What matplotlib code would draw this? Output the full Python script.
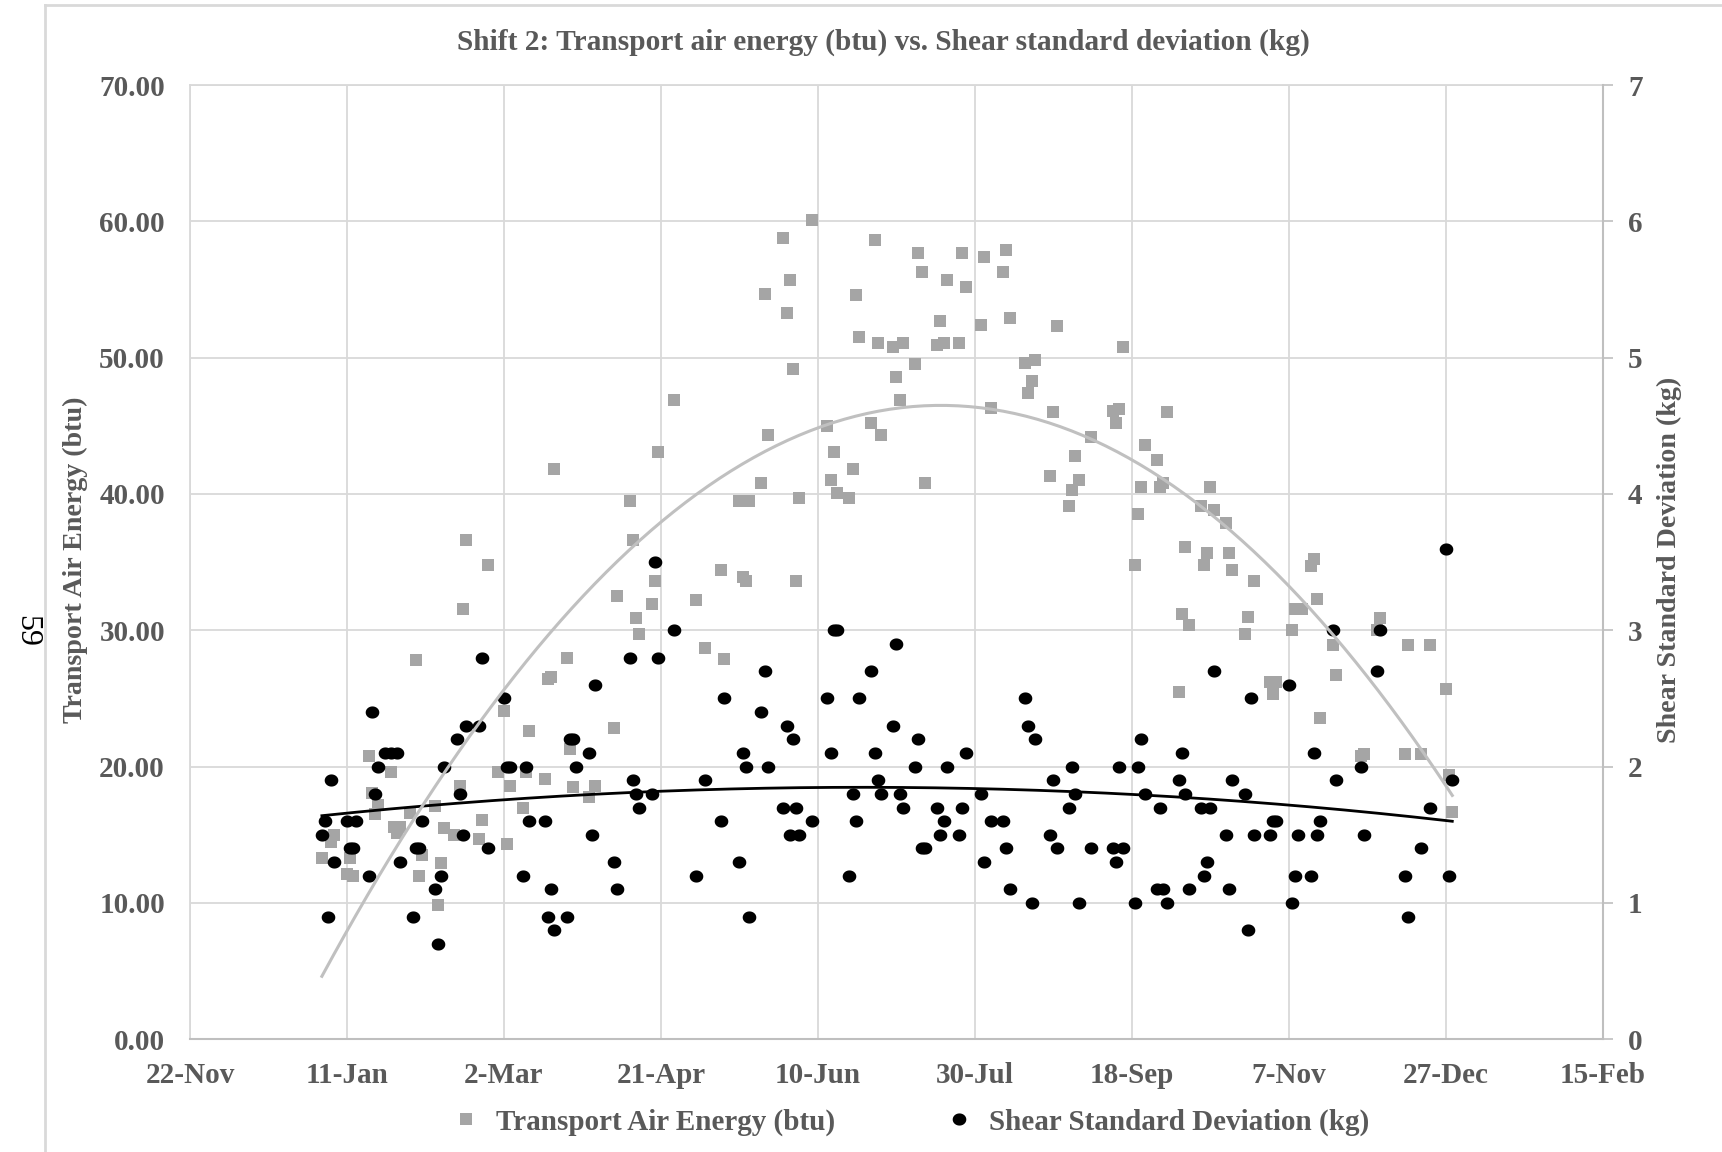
import numpy as np
import pandas as pd
import matplotlib
matplotlib.use("Agg")
import matplotlib.pyplot as plt
import matplotlib.dates as mdates
from matplotlib.lines import Line2D
from matplotlib.path import Path

# day of year (0 = 1 Jan 2017) and daily values for shift 2
energy_days = [2, 5, 6, 10, 11, 12, 17, 18, 19, 20, 24, 25, 26, 27, 30, 32, 33, 34, 38, 39,
               40, 41, 44, 46, 47, 48, 52, 53, 55, 58, 60, 61, 62, 66, 67, 68, 73, 74, 75, 76,
               80, 81, 82, 87, 89, 95, 96, 100, 101, 102, 103, 107, 108, 109, 114, 121, 124, 129, 130, 135,
               136, 137, 138, 142, 143, 144, 149, 150, 151, 152, 153, 154, 158, 163, 164, 165, 166, 170, 171, 172,
               173, 177, 178, 179, 180, 184, 185, 186, 187, 191, 192, 193, 194, 198, 199, 200, 201, 205, 206, 207,
               212, 213, 215, 219, 220, 221, 226, 227, 228, 229, 234, 235, 236, 240, 241, 242, 243, 247, 254, 255,
               256, 257, 261, 262, 263, 264, 268, 269, 270, 271, 275, 276, 277, 278, 282, 283, 284, 285, 286, 290,
               291, 292, 296, 297, 299, 304, 305, 306, 311, 312, 314, 317, 318, 319, 320, 324, 325, 333, 334, 338,
               339, 347, 348, 352, 355, 360, 361, 362]
energy_btu = [13.3, 14.5, 15.0, 12.1, 13.3, 12.0, 20.8, 18.1, 16.5, 17.2, 19.6, 15.6, 15.1, 15.6, 16.6, 27.8, 12.0, 13.5, 17.1, 9.85,
              12.9, 15.5, 15.0, 18.6, 31.6, 36.6, 14.7, 16.1, 34.8, 19.6, 24.1, 14.3, 18.6, 17.0, 19.6, 22.6, 19.1, 26.4, 26.6, 41.8,
              28.0, 21.3, 18.5, 17.8, 18.6, 22.8, 32.5, 39.5, 36.6, 30.9, 29.7, 31.9, 33.6, 43.1, 46.9, 32.2, 28.7, 34.4, 27.9, 39.5,
              33.9, 33.6, 39.5, 40.8, 54.7, 44.3, 58.8, 53.3, 55.7, 49.2, 33.6, 39.7, 60.1, 45.0, 41.0, 43.1, 40.1, 39.7, 41.8, 54.6,
              51.5, 45.2, 58.6, 51.1, 44.3, 50.8, 48.6, 46.9, 51.1, 49.5, 57.7, 56.3, 40.8, 50.9, 52.7, 51.1, 55.7, 51.1, 57.7, 55.2,
              52.4, 57.4, 46.3, 56.3, 57.9, 52.9, 49.6, 47.4, 48.3, 49.8, 41.3, 46.0, 52.3, 39.1, 40.3, 42.8, 41.0, 44.2, 46.1, 45.2,
              46.2, 50.8, 34.8, 38.5, 40.5, 43.6, 42.5, 40.5, 40.8, 46.0, 25.5, 31.2, 36.1, 30.4, 39.1, 34.8, 35.7, 40.5, 38.8, 37.9,
              35.7, 34.4, 29.7, 31.0, 33.6, 26.2, 25.3, 26.2, 30.0, 31.6, 31.6, 34.7, 35.2, 32.3, 23.6, 28.9, 26.7, 20.8, 20.9, 30.0,
              30.9, 20.9, 28.9, 20.9, 28.9, 25.7, 19.4, 16.7]

shear_days = [2, 3, 4, 5, 6, 10, 11, 12, 13, 17, 18, 19, 20, 22, 24, 26, 27, 31, 32, 33,
              34, 38, 39, 40, 41, 45, 46, 47, 48, 52, 53, 55, 60, 61, 62, 66, 67, 68, 73, 74,
              75, 76, 80, 81, 82, 83, 87, 88, 89, 95, 96, 100, 101, 102, 103, 107, 108, 109, 114, 121,
              124, 129, 130, 135, 136, 137, 138, 142, 143, 144, 149, 150, 151, 152, 153, 154, 158, 163, 164, 165,
              166, 170, 171, 172, 173, 177, 178, 179, 180, 184, 185, 186, 187, 191, 192, 193, 194, 198, 199, 200,
              201, 205, 206, 207, 212, 213, 215, 219, 220, 221, 226, 227, 228, 229, 234, 235, 236, 240, 241, 242,
              243, 247, 254, 255, 256, 257, 261, 262, 263, 264, 268, 269, 270, 271, 275, 276, 277, 278, 282, 283,
              284, 285, 286, 290, 291, 292, 296, 297, 298, 299, 304, 305, 306, 310, 311, 312, 313, 317, 318, 319,
              320, 324, 325, 333, 334, 338, 339, 347, 348, 352, 355, 360, 361, 362]
shear_kg = [1.5, 1.6, 0.9, 1.9, 1.3, 1.6, 1.4, 1.4, 1.6, 1.2, 2.4, 1.8, 2.0, 2.1, 2.1, 2.1, 1.3, 0.9, 1.4, 1.4,
            1.6, 1.1, 0.7, 1.2, 2.0, 2.2, 1.8, 1.5, 2.3, 2.3, 2.8, 1.4, 2.5, 2.0, 2.0, 1.2, 2.0, 1.6, 1.6, 0.9,
            1.1, 0.8, 0.9, 2.2, 2.2, 2.0, 2.1, 1.5, 2.6, 1.3, 1.1, 2.8, 1.9, 1.8, 1.7, 1.8, 3.5, 2.8, 3.0, 1.2,
            1.9, 1.6, 2.5, 1.3, 2.1, 2.0, 0.9, 2.4, 2.7, 2.0, 1.7, 2.3, 1.5, 2.2, 1.7, 1.5, 1.6, 2.5, 2.1, 3.0,
            3.0, 1.2, 1.8, 1.6, 2.5, 2.7, 2.1, 1.9, 1.8, 2.3, 2.9, 1.8, 1.7, 2.0, 2.2, 1.4, 1.4, 1.7, 1.5, 1.6,
            2.0, 1.5, 1.7, 2.1, 1.8, 1.3, 1.6, 1.6, 1.4, 1.1, 2.5, 2.3, 1.0, 2.2, 1.5, 1.9, 1.4, 1.7, 2.0, 1.8,
            1.0, 1.4, 1.4, 1.3, 2.0, 1.4, 1.0, 2.0, 2.2, 1.8, 1.1, 1.7, 1.1, 1.0, 1.9, 2.1, 1.8, 1.1, 1.7, 1.2,
            1.3, 1.7, 2.7, 1.5, 1.1, 1.9, 1.8, 0.8, 2.5, 1.5, 1.5, 1.6, 1.6, 2.6, 1.0, 1.2, 1.5, 1.2, 2.1, 1.5,
            1.6, 3.0, 1.9, 2.0, 1.5, 2.7, 3.0, 1.2, 0.9, 1.4, 1.7, 3.6, 1.2, 1.9]

start = pd.Timestamp("2017-01-01")
x_start, x_end = pd.Timestamp("2016-11-22"), pd.Timestamp("2018-02-15")
tick_dates = pd.date_range(x_start, x_end, freq="50D")

TXT = "#595959"
GRID = "#d9d9d9"
AXIS = "#bfbfbf"

plt.rcParams["font.family"] = ["Liberation Serif", "DejaVu Serif"]
plt.rcParams["font.weight"] = "bold"


def ellipse_marker(sx):
    t = np.linspace(0, 2 * np.pi, 64)
    return Path(np.column_stack([sx * np.cos(t), np.sin(t)]), closed=True)


def rect_marker(w, h):
    return Path([(-w, -h), (w, -h), (w, h), (-w, h), (-w, -h)], closed=True)


dot = ellipse_marker(1.12)
square = rect_marker(1.08, 1.0)

e_dates = start + pd.to_timedelta(energy_days, unit="D")
s_dates = start + pd.to_timedelta(shear_days, unit="D")

# second order polynomial trendlines
e_fit = np.polyfit(energy_days, energy_btu, 2)
s_fit = np.polyfit(shear_days, shear_kg, 2)
fit_days = np.linspace(min(energy_days), max(energy_days), 200)
fit_dates = start + pd.to_timedelta(fit_days, unit="D")

fig = plt.figure(figsize=(17.22, 11.52), dpi=100)
ax = fig.add_axes([190 / 1722, 1 - 1039.3 / 1152, 1413 / 1722, 954.3 / 1152])
ax2 = ax.twinx()

ax.plot(e_dates, energy_btu, linestyle="none", marker=square, markersize=8.6,
        color="#a5a5a5", markeredgewidth=0, zorder=3)
ax2.plot(s_dates, shear_kg, linestyle="none", marker=dot, markersize=9.8,
         color="black", markeredgewidth=0, zorder=3)
ax2.plot(fit_dates, np.polyval(s_fit, fit_days), color="black", linewidth=2.0, zorder=4)
ax2.plot(fit_dates, np.polyval(e_fit, fit_days), color="#c0c0c0", linewidth=2.2,
         transform=ax.transData, zorder=5)

ax.set_xlim(x_start, x_end)
ax.set_ylim(0, 70)
ax2.set_ylim(0, 7)
ax.set_xticks(tick_dates)
ax.xaxis.set_major_formatter(mdates.DateFormatter("%-d-%b"))
ax.set_yticks(np.arange(0, 71, 10))
ax.yaxis.set_major_formatter(matplotlib.ticker.FormatStrFormatter("%.2f"))
ax2.set_yticks(np.arange(0, 8, 1))

ax.set_axisbelow(True)
ax.grid(True, color=GRID, linewidth=1.3)

for side in ["left", "top"]:
    ax.spines[side].set_color(GRID)
    ax.spines[side].set_linewidth(1.3)
ax.spines["right"].set_visible(False)
ax.spines["bottom"].set_color(AXIS)
ax.spines["bottom"].set_linewidth(1.5)
for side in ["left", "top", "bottom"]:
    ax2.spines[side].set_visible(False)
ax2.spines["right"].set_color(AXIS)
ax2.spines["right"].set_linewidth(1.5)

ax.tick_params(axis="x", length=0, pad=16, labelsize=21, labelcolor=TXT)
ax.tick_params(axis="y", length=0, pad=18, labelsize=21, labelcolor=TXT)
ax2.tick_params(axis="y", length=7, width=1.2, color=AXIS, pad=11, labelsize=21, labelcolor=TXT)

fig.text(0.513, 1 - 42 / 1152, "Shift 2: Transport air energy (btu) vs. Shear standard deviation (kg)",
         ha="center", va="center", fontsize=21.2, color=TXT)
fig.text(75 / 1722, 1 - 560 / 1152, "Transport Air Energy (btu)", rotation=90,
         ha="center", va="center", fontsize=20.2, color=TXT)
fig.text(1669 / 1722, 1 - 560 / 1152, "Shear Standard Deviation (kg)", rotation=90,
         ha="center", va="center", fontsize=20.2, color=TXT)

handles = [Line2D([], [], linestyle="none", marker=square, markersize=8.6, color="#a5a5a5", markeredgewidth=0),
           Line2D([], [], linestyle="none", marker=dot, markersize=9.8, color="black", markeredgewidth=0)]
fig.legend(handles, ["Transport Air Energy (btu)", "Shear Standard Deviation (kg)"],
           loc="center", bbox_to_anchor=(910 / 1722, 1 - 1122 / 1152), ncol=2, frameon=False,
           fontsize=21, labelcolor=TXT, handlelength=1.0, handletextpad=0.53, columnspacing=3.75)

# page border and page number
fig.add_artist(Line2D([45 / 1722, 45 / 1722], [0, 1 - 5 / 1152], transform=fig.transFigure,
                      color=GRID, linewidth=2))
fig.add_artist(Line2D([45 / 1722, 1], [1 - 5 / 1152, 1 - 5 / 1152], transform=fig.transFigure,
                      color=GRID, linewidth=2))
fig.text(27 / 1722, 1 - 631 / 1152, "59", rotation=-90, ha="center", va="center",
         fontsize=23, fontweight="normal", color="black")

fig.savefig("out.png", dpi=100)
